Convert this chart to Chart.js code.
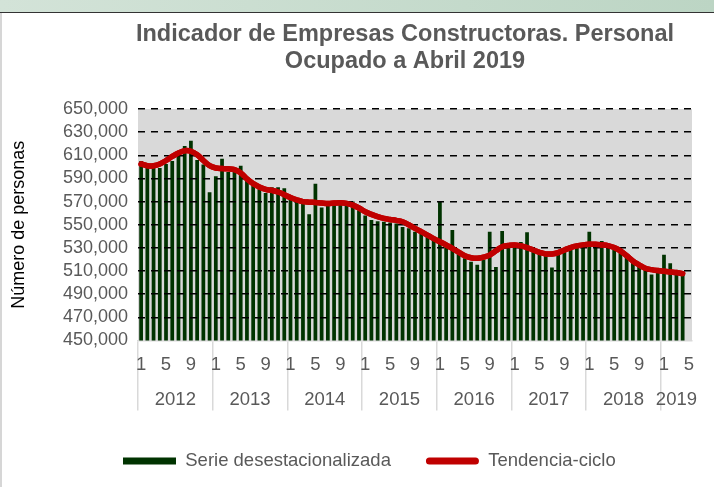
<!DOCTYPE html>
<html><head><meta charset="utf-8">
<script src="https://cdn.jsdelivr.net/npm/chart.js@4/dist/chart.umd.min.js"></script>
<style>
html,body{margin:0;padding:0;background:#fff;}
#wrap{position:relative;width:714px;height:487px;overflow:hidden;background:#fff;}
#band{position:absolute;left:0;top:0;width:714px;height:12px;background:linear-gradient(to right,#d3e3d8,#bcd5c4);border-bottom:1.5px solid #333;}
#lb{position:absolute;left:0;top:13px;width:2px;height:474px;background:#d6d6d6;}
canvas{position:absolute;left:0;top:0;}
</style></head><body>
<div id="wrap"><div id="band"></div><div id="lb"></div><canvas id="c" width="714" height="487"></canvas></div>
<script>
// Month of each category, Jan 2012 .. May 2019
const categories = [
  "1","2","3","4","5","6","7","8","9","10","11","12",
  "1","2","3","4","5","6","7","8","9","10","11","12",
  "1","2","3","4","5","6","7","8","9","10","11","12",
  "1","2","3","4","5","6","7","8","9","10","11","12",
  "1","2","3","4","5","6","7","8","9","10","11","12",
  "1","2","3","4","5","6","7","8","9","10","11","12",
  "1","2","3","4","5","6","7","8","9","10","11","12",
  "1","2","3","4","5"
];
const yearLabels = ["2012","2013","2014","2015","2016","2017","2018","2019"];

const serieDesestacionalizada = [
  605000,599000,599000,599000,602500,605000,610000,618000,622500,606000,602000,578000,
  592000,607000,595500,597000,601000,590000,585500,581000,577500,582500,582500,581500,
  572500,571000,570000,559000,585500,565000,570000,570000,570000,567000,570000,562500,
  558000,554000,553000,552500,552000,551000,548000,547000,544000,542500,539500,537000,
  570000,532500,545500,525000,521000,518000,515500,519500,544000,513500,544500,531000,
  532000,535000,543500,530000,525000,524000,513000,525000,527000,532500,531000,532500,
  544000,531000,536000,532500,530000,527000,522500,519500,515000,511000,507000,509500,
  524000,516700,508000,506600
];
const tendenciaCiclo = [
  602500,601000,601000,602500,605500,609000,612000,614000,613500,610500,605500,601000,
  599000,598500,598300,597600,594800,589600,585500,582600,580600,579700,578300,576000,
  573500,571500,570000,569500,569300,568800,568400,568700,569000,568500,567000,564500,
  561200,559000,557000,555500,554600,553800,552600,550000,546800,544000,541000,538000,
  535300,532500,529600,526300,523200,521500,521000,522000,523800,527500,531000,532000,
  532600,531700,530300,528200,526200,524800,524800,526000,528200,530300,531700,532600,
  533100,533100,532600,532000,530300,527400,523300,518700,515300,512400,511200,510400,
  509800,509200,508700,507800
];
const yMin = 450000, yMax = 650000, yStep = 20000;

const FONT = "'Liberation Sans', Arial, sans-serif";
const GREY_TXT = '#595959';

// year group centres (in category units) derived from the category list
const yearCenters = yearLabels.map((y, k) => {
  const s = k * 12 - 0.5;
  const e = Math.min(k * 12 + 11.5, categories.length - 0.5);
  return (s + e) / 2;
});

const plotBg = {
  id: 'plotBg',
  beforeDraw(chart) {
    const {ctx, chartArea: a} = chart;
    ctx.save(); ctx.fillStyle = '#d9d9d9';
    ctx.fillRect(a.left, a.top, a.right - a.left, a.bottom - a.top);
    ctx.restore();
  }
};
const placer = {
  id: 'placer',
  afterLayout(chart) {
    const L = chart.legend;
    if (L && L.lineWidths) {
      const p = L.options.labels.padding;
      const fs = L.options.labels.font.size;
      const startX = (L.left + p + L.right - L.lineWidths[0]) / 2;
      const dx = 123 - startX;
      L.left += dx; L.right += dx;
      const dy = 461 - (L.top + p + fs / 2);
      L.top += dy; L.bottom += dy;
    }
    const T = chart.titleBlock;
    if (T) { const c = (T.left + T.right) / 2; const dx = 405 - c; T.left += dx; T.right += dx; }
  }
};
const lineOnTop = {
  id: 'lineOnTop',
  afterDraw(chart) {
    const meta = chart.getDatasetMeta(1);
    chart.ctx.save();
    meta.controller.draw();
    chart.ctx.restore();
  }
};

new Chart(document.getElementById('c'), {
  type: 'bar',
  data: {
    labels: categories,
    datasets: [
      { type: 'bar', label: 'Serie desestacionalizada', data: serieDesestacionalizada,
        backgroundColor: '#003300', borderWidth: 0, barPercentage: 0.6, categoryPercentage: 1, order: 2 },
      { type: 'line', label: 'Tendencia-ciclo', data: tendenciaCiclo,
        borderColor: '#c00000', backgroundColor: '#c00000', borderWidth: 5.5, pointRadius: 0,
        tension: 0.4, borderCapStyle: 'round', borderJoinStyle: 'round', order: 1 }
    ]
  },
  options: {
    responsive: false, animation: false, devicePixelRatio: 1,
    layout: { padding: { left: 0, right: 22, top: 0, bottom: 0 } },
    plugins: {
      title: { display: true, text: ['Indicador de Empresas Constructoras. Personal', 'Ocupado a Abril 2019'],
        color: GREY_TXT, font: { family: FONT, size: 23.5, weight: 'bold', lineHeight: 1.149 },
        padding: { top: 21, bottom: 34 } },
      legend: { position: 'bottom',
        labels: { color: GREY_TXT, font: { family: FONT, size: 18.5 }, boxWidth: 53, boxHeight: 7, padding: 35,
          generateLabels() {
            return [
              { text: 'Serie desestacionalizada', fillStyle: '#003300', strokeStyle: '#003300', lineWidth: 0, fontColor: GREY_TXT, datasetIndex: 0 },
              { text: 'Tendencia-ciclo', fillStyle: '#c00000', strokeStyle: '#c00000', lineWidth: 0, fontColor: GREY_TXT, datasetIndex: 1, borderRadius: 3.5 }
            ];
          } } },
      tooltip: { enabled: false }
    },
    scales: {
      x: { type: 'category', offset: true, weight: 0,
        grid: { display: true, offset: true, drawOnChartArea: false, drawTicks: true, tickLength: 70,
          color: (c) => (c.index % 12 === 0 || c.index === categories.length) ? '#d9d9d9' : 'rgba(0,0,0,0)',
          lineWidth: 1.5 },
        border: { display: true, color: '#d9d9d9', width: 1.5 },
        ticks: { autoSkip: false, maxRotation: 0, minRotation: 0, padding: -57, color: GREY_TXT,
          font: { family: FONT, size: 18.5 },
          callback: (v, i) => (i % 4 === 0 ? categories[i] : '') },
        afterFit(s) { s.height = 36; } },
      years: { type: 'linear', position: 'bottom', weight: 1, offset: false, min: -0.5, max: categories.length - 0.5,
        grid: { display: false, drawTicks: false }, border: { display: false },
        afterBuildTicks(s) { s.ticks = yearCenters.map(v => ({ value: v })); },
        ticks: { autoSkip: false, maxRotation: 0, minRotation: 0, padding: 12, color: GREY_TXT,
          font: { family: FONT, size: 18.5 }, callback: (v, i) => yearLabels[i] },
        afterFit(s) { s.height = 47; } },
      y: { min: yMin, max: yMax,
        ticks: { stepSize: yStep, autoSkip: false, padding: 10, color: GREY_TXT, font: { family: FONT, size: 18 },
          callback: (v) => v.toLocaleString('en-US') },
        grid: { drawTicks: false, z: 1, lineWidth: 1.6,
          color: (c) => (c.tick && c.tick.value === yMin) ? 'rgba(0,0,0,0)' : '#000' },
        border: { display: false, dash: [7, 6] },
        title: { display: true, text: 'Número de personas', color: '#000',
          font: { family: FONT, size: 18 }, padding: { top: 8, bottom: 0 } },
        afterFit(s) { s.width = 138; } }
    }
  },
  plugins: [plotBg, placer, lineOnTop]
});
</script>
</body></html>
